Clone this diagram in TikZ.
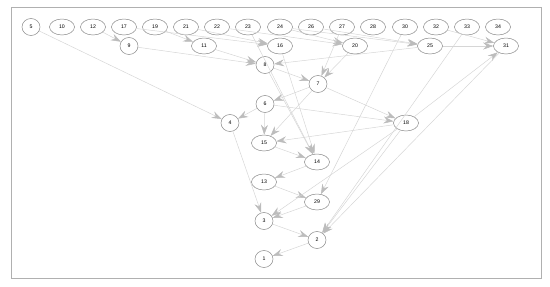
\documentclass[tikz,border=0pt]{standalone}
\usepackage{fontspec}
\setmainfont{Liberation Sans}
\usepackage{tikz}
\usetikzlibrary{arrows.meta, shapes.geometric}
\definecolor{nodeedge}{RGB}{136,136,136}
\definecolor{depline}{RGB}{214,214,214}
\definecolor{deptip}{RGB}{188,188,188}
\definecolor{frameline}{RGB}{176,176,176}
\tikzset{
    vertex/.style      = {ellipse, draw = nodeedge, line width = 0.5pt, minimum width = 25pt, minimum height = 16pt, inner sep = 0pt, font = \fontsize{5.2}{6}\selectfont},
    small vertex/.style = {vertex, minimum width = 18pt, minimum height = 17pt},
    dep/.style         = {draw = depline, line width = 0.5pt, -{Stealth[length = 10pt, width = 7pt, inset = 3.5pt, color = deptip]}},
    frame/.style       = {draw = frameline, line width = 0.8pt}
}

\begin{document}
\begin{tikzpicture}[x=1pt, y=-1pt]
		\useasboundingbox (0,0) rectangle (550,287);
		\draw[frame] (11,7) rectangle (541,278);

		% top row
		\node[small vertex] (n5)  at (31,27)  {5};
		\node[vertex] (n10) at (62,27)  {10};
		\node[vertex] (n12) at (93,27)  {12};
		\node[vertex] (n17) at (124,27) {17};
		\node[vertex] (n19) at (155,27) {19};
		\node[vertex] (n21) at (186,27) {21};
		\node[vertex] (n22) at (217,27) {22};
		\node[vertex] (n23) at (248,27) {23};
		\node[vertex] (n24) at (280,27) {24};
		\node[vertex] (n26) at (311,27) {26};
		\node[vertex] (n27) at (342,27) {27};
		\node[vertex] (n28) at (373,27) {28};
		\node[vertex] (n30) at (405,27) {30};
		\node[vertex] (n32) at (436,27) {32};
		\node[vertex] (n33) at (467,27) {33};
		\node[vertex] (n34) at (498,27) {34};

		% second row
		\node[small vertex] (n9)  at (129,46) {9};
		\node[vertex] (n11) at (204,46) {11};
		\node[vertex] (n16) at (280,46) {16};
		\node[vertex] (n20) at (355,46) {20};
		\node[vertex] (n25) at (430,46) {25};
		\node[vertex] (n31) at (506,46) {31};

		% the rest
		\node[small vertex] (n8)  at (265,65)  {8};
		\node[small vertex] (n7)  at (318,84)  {7};
		\node[small vertex] (n6)  at (265,104) {6};
		\node[small vertex] (n4)  at (230,123) {4};
		\node[vertex]       (n18) at (406,123) {18};
		\node[vertex]       (n15) at (264,143) {15};
		\node[vertex]       (n14) at (317,162) {14};
		\node[vertex]       (n13) at (264,182) {13};
		\node[vertex]       (n29) at (317,202) {29};
		\node[small vertex] (n3)  at (264,221) {3};
		\node[small vertex] (n2)  at (317,240) {2};
		\node[small vertex] (n1)  at (264,259) {1};

		\draw[dep] (n5) -- (n4);
		\draw[dep] (n12) -- (n9);
		\draw[dep] (n17) -- (n16);
		\draw[dep] (n19) -- (n11);
		\draw[dep] (n21) -- (n16);
		\draw[dep] (n22) -- (n20);
		\draw[dep] (n23) -- (n14);
		\draw[dep] (n24) -- (n20);
		\draw[dep] (n24) -- (n25);
		\draw[dep] (n26) -- (n25);
		\draw[dep] (n27) -- (n7);
		\draw[dep] (n32) -- (n31);
		\draw[dep] (n25) -- (n31);
		\draw[dep] (n9) -- (n8);
		\draw[dep] (n11) -- (n8);
		\draw[dep] (n25) -- (n8);
		\draw[dep] (n16) -- (n14);
		\draw[dep] (n20) -- (n7);
		\draw[dep] (n8) -- (n7);
		\draw[dep] (n8) -- (n14);
		\draw[dep] (n7) -- (n6);
		\draw[dep] (n6) -- (n4);
		\draw[dep] (n6) -- (n15);
		\draw[dep] (n7) -- (n15);
		\draw[dep] (n6) -- (n18);
		\draw[dep] (n7) -- (n18);
		\draw[dep] (n18) -- (n15);
		\draw[dep] (n18) -- (n31);
		\draw[dep] (n15) -- (n14);
		\draw[dep] (n14) -- (n13);
		\draw[dep] (n4) -- (n3);
		\draw[dep] (n13) -- (n29);
		\draw[dep] (n30) -- (n29);
		\draw[dep] (n29) -- (n3);
		\draw[dep] (n18) -- (n3);
		\draw[dep] (n3) -- (n2);
		\draw[dep] (n33) -- (n2);
		\draw[dep] (n31) -- (n2);
		\draw[dep] (n18) -- (n2);
		\draw[dep] (n2) -- (n1);
	\end{tikzpicture}
\end{document}
